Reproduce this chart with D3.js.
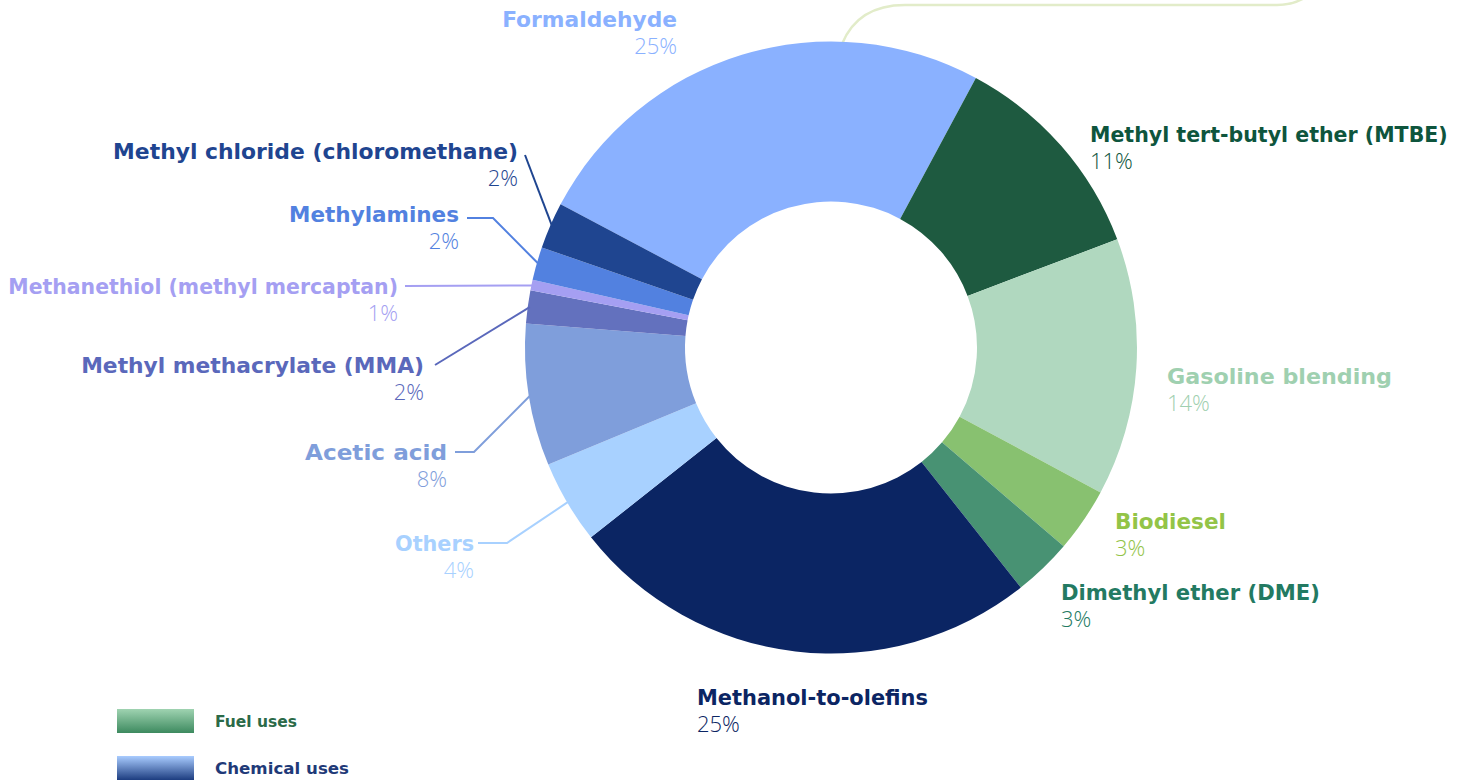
<!DOCTYPE html>
<html>
<head>
<meta charset="utf-8">
<script src="https://cdn.jsdelivr.net/npm/d3@7/dist/d3.min.js"></script>
<style>
  html, body { margin: 0; padding: 0; background: #ffffff; }
  svg { display: block; }
  .lbl { font-family: "DejaVu Sans", sans-serif; font-weight: bold; font-size: 22px; }
  .pct { font-family: "Open Sans", "Liberation Sans", sans-serif; font-weight: 300; font-size: 22px; }
  .leg { font-family: "DejaVu Sans", sans-serif; font-weight: bold; font-size: 15.5px; }
</style>
</head>
<body>
<svg id="chart" width="1468" height="780"></svg>
<script>
// ---- data ----
const categories = [
  "Formaldehyde", "Methyl tert-butyl ether (MTBE)", "Gasoline blending", "Biodiesel",
  "Dimethyl ether (DME)", "Methanol-to-olefins", "Others", "Acetic acid",
  "Methyl methacrylate (MMA)", "Methanethiol (methyl mercaptan)", "Methylamines",
  "Methyl chloride (chloromethane)"
];
const shares = [25.1, 11.4, 13.6, 3.4, 3.1, 25.0, 4.4, 7.5, 1.75, 0.55, 1.75, 2.45];
const pctLabels = ["25%", "11%", "14%", "3%", "3%", "25%", "4%", "8%", "2%", "1%", "2%", "2%"];
const legendLabels = ["Fuel uses", "Chemical uses"];

// ---- styles ----
const sliceColors = ["#8ab1ff", "#1e5a40", "#b0d8bf", "#88c170", "#489273", "#0b2563",
                     "#a8d1ff", "#7f9edb", "#6371be", "#a59ff2", "#5281e0", "#1f4590"];
const labelColors = ["#8ab1ff", "#0e553d", "#9fd0b0", "#93c447", "#237a62", "#0b2563",
                     "#a8d1ff", "#7f9edb", "#5a68bb", "#a59ff2", "#5281e0", "#1f4590"];

// ---- layout ----
const W = 1468, H = 780;
const cx = 831, cy = 347.5, rOuter = 306, rInner = 146;
const startDeg = -62.1;
// label anchor positions (x, baseline y, text-anchor, width of bold label)
const labelPos = [
  [677, 27, "end", 175], [1090, 142, "start", 358], [1167, 384, "start", 225], [1115, 529, "start", 111],
  [1061, 600, "start", 259], [697, 705, "start", 231], [474, 551, "end", 79], [447, 460, "end", 142],
  [424, 373, "end", 343], [398, 294, "end", 390], [459, 222, "end", 170], [518, 159, "end", 405]
];
// leader lines: [startX, startY, elbowX or null]
const leaders = {
  6: [478, 543, 507], 7: [455, 452, 474], 8: [435, 365, null],
  9: [405, 286, null], 10: [467, 218, 493], 11: [525, 155, null]
};
const legendWidths = [82, 134];

const svg = d3.select("#chart");

const defs = svg.append("defs");
const gFuel = defs.append("linearGradient").attr("id", "gFuel").attr("x1", 0).attr("y1", 0).attr("x2", 0).attr("y2", 1);
gFuel.append("stop").attr("offset", "0%").attr("stop-color", "#9fd3b1");
gFuel.append("stop").attr("offset", "100%").attr("stop-color", "#3d8a5f");
const gChem = defs.append("linearGradient").attr("id", "gChem").attr("x1", 0).attr("y1", 0).attr("x2", 0).attr("y2", 1);
gChem.append("stop").attr("offset", "0%").attr("stop-color", "#a9ccff");
gChem.append("stop").attr("offset", "100%").attr("stop-color", "#1d3d80");

// callout line at top
svg.append("path")
  .attr("d", "M842,44 Q858,5 905,5 L1277,5 Q1293,5 1306,-3")
  .attr("fill", "none").attr("stroke", "#e2ecc9").attr("stroke-width", 2.5);

const pie = d3.pie().sort(null).value(d => d)
  .startAngle(startDeg * Math.PI / 180)
  .endAngle(startDeg * Math.PI / 180 + 2 * Math.PI);
const arcs = pie(shares);

const arc = d3.arc().innerRadius(rInner).outerRadius(rOuter);
const edgeArc = d3.arc().innerRadius(rOuter - 2).outerRadius(rOuter - 2);

const g = svg.append("g").attr("transform", `translate(${cx},${cy})`);
g.selectAll("path.slice").data(arcs).enter().append("path")
  .attr("class", "slice")
  .attr("d", arc)
  .attr("fill", (d, i) => sliceColors[i]);

// leader lines
Object.keys(leaders).forEach(k => {
  const i = +k;
  const [sx, sy, ex] = leaders[k];
  const c = edgeArc.centroid(arcs[i]);
  const pts = [[sx, sy]];
  if (ex !== null) pts.push([ex, sy]);
  pts.push([cx + c[0], cy + c[1]]);
  svg.append("path")
    .attr("d", d3.line()(pts))
    .attr("fill", "none")
    .attr("stroke", labelColors[i])
    .attr("stroke-width", 2);
});

// labels
categories.forEach((name, i) => {
  const [x, y, anchor, w] = labelPos[i];
  const t = svg.append("text").attr("class", "lbl")
    .attr("x", x).attr("y", y).attr("text-anchor", anchor)
    .attr("fill", labelColors[i]).text(name);
  const natural = t.node().getComputedTextLength();
  if (natural > w) {
    t.style("font-size", (22 * w / natural) + "px");
  } else {
    t.attr("textLength", w).attr("lengthAdjust", "spacingAndGlyphs");
  }
  svg.append("text").attr("class", "pct")
    .attr("x", x).attr("y", y + 27).attr("text-anchor", anchor)
    .attr("fill", labelColors[i]).text(pctLabels[i]);
});

// legend
const legColors = ["#2b6a48", "#1f3a78"];
legendLabels.forEach((t, i) => {
  const y = 709 + i * 47;
  svg.append("rect").attr("x", 117).attr("y", y).attr("width", 77).attr("height", 24)
    .attr("fill", i === 0 ? "url(#gFuel)" : "url(#gChem)");
  svg.append("text").attr("class", "leg").attr("x", 215).attr("y", y + 18)
    .attr("textLength", legendWidths[i]).attr("lengthAdjust", "spacingAndGlyphs")
    .attr("fill", legColors[i]).text(t);
});
</script>
</body>
</html>
